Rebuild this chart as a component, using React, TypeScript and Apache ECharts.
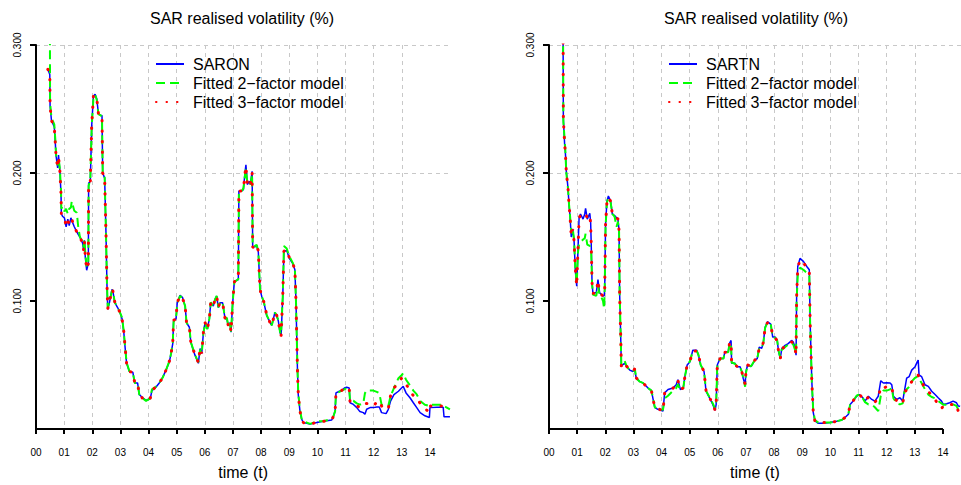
import React, { useEffect, useRef } from "react";
import * as echarts from "echarts";

// Axis ticks and labels
const X_TICKS = [0, 1, 2, 3, 4, 5, 6, 7, 8, 9, 10, 11, 12, 13, 14];
const Y_TICKS = [0.1, 0.2, 0.3];
const TITLE = "SAR realised volatility (%)";
const X_NAME = "time (t)";
const FIT2 = "Fitted 2\u2212factor model";
const FIT3 = "Fitted 3\u2212factor model";

// SARON panel
const SARON_T = [
  0.42, 0.49, 0.5, 0.55, 0.65, 0.69, 0.71, 0.77, 0.8, 0.85,
  0.89, 0.9, 0.95, 1.01, 1.07, 1.13, 1.18, 1.24, 1.27, 1.36,
  1.45, 1.5, 1.56, 1.66, 1.69, 1.72, 1.75, 1.8, 1.86, 1.87,
  1.93, 1.98, 2.04, 2.1, 2.16, 2.22, 2.3, 2.345, 2.37, 2.44,
  2.49, 2.52, 2.55, 2.61, 2.7, 2.73, 2.8, 2.9, 2.985, 3.06,
  3.12, 3.17, 3.22, 3.32, 3.44, 3.51, 3.61, 3.67, 3.79, 3.91,
  4.06, 4.12, 4.26, 4.38, 4.5, 4.62, 4.74, 4.8, 4.86, 4.89,
  4.975, 5.02, 5.12, 5.21, 5.3, 5.35, 5.45, 5.5, 5.59, 5.65,
  5.77, 5.83, 5.89, 5.95, 6.01, 6.09, 6.16, 6.21, 6.3, 6.36,
  6.42, 6.48, 6.54, 6.63, 6.72, 6.78, 6.83, 6.89, 6.93, 6.99,
  7.05, 7.19, 7.21, 7.31, 7.37, 7.43, 7.46, 7.51, 7.58, 7.62,
  7.68, 7.7, 7.78, 7.84, 7.9, 7.96, 8.02, 8.1, 8.2, 8.32,
  8.38, 8.49, 8.55, 8.61, 8.67, 8.71, 8.77, 8.81, 8.91, 9.0,
  9.12, 9.2, 9.24, 9.29, 9.32, 9.38, 9.44, 9.5, 9.74, 9.98,
  10.21, 10.51, 10.57, 10.63, 10.66, 10.78, 10.86, 10.96, 11.04, 11.13,
  11.16, 11.28, 11.4, 11.51, 11.63, 11.69, 11.75, 11.87, 11.99, 12.11,
  12.2, 12.28, 12.44, 12.52, 12.6, 12.72, 12.88, 12.99, 13.05, 13.15,
  13.29, 13.41, 13.53, 13.65, 13.82, 13.98, 14.0, 14.24, 14.47, 14.5,
  14.71,
];
const SARON = [
  0.281, 0.277, 0.2525, 0.241, 0.236, 0.222, 0.214, 0.204, 0.214, 0.201,
  0.183, 0.168, 0.166, 0.165, 0.158, 0.164, 0.159, 0.165, 0.163, 0.158,
  0.154, 0.152, 0.15, 0.145, 0.14, 0.1475, 0.1346, 0.124, 0.1295, 0.192,
  0.1935, 0.237, 0.26, 0.2615, 0.258, 0.246, 0.245, 0.245, 0.2, 0.196,
  0.15, 0.114, 0.0936, 0.0987, 0.109, 0.108, 0.0987, 0.0949, 0.091, 0.086,
  0.0756, 0.0628, 0.0513, 0.0449, 0.0444, 0.0359, 0.036, 0.0269, 0.0244, 0.0223,
  0.0238, 0.03, 0.0326, 0.0359, 0.0403, 0.046, 0.0526, 0.059, 0.0667, 0.0846,
  0.086, 0.0987, 0.1044, 0.1026, 0.096, 0.083, 0.0795, 0.068, 0.0615, 0.0577,
  0.0513, 0.0628, 0.059, 0.0756, 0.0833, 0.0782, 0.086, 0.0987, 0.096, 0.1013,
  0.1038, 0.0949, 0.0987, 0.0987, 0.086, 0.0865, 0.0808, 0.083, 0.0756, 0.0987,
  0.1154, 0.1167, 0.186, 0.186, 0.187, 0.201, 0.2064, 0.191, 0.1936, 0.191,
  0.2013, 0.1423, 0.1423, 0.1436, 0.1385, 0.109, 0.1038, 0.0987, 0.0885, 0.0833,
  0.081, 0.091, 0.0885, 0.0846, 0.0756, 0.073, 0.1038, 0.1385, 0.1397, 0.1333,
  0.1295, 0.1244, 0.0987, 0.0474, 0.0269, 0.014, 0.0077, 0.0051, 0.0038, 0.0051,
  0.006, 0.007, 0.01, 0.014, 0.0282, 0.0295, 0.03, 0.032, 0.0326, 0.032,
  0.0205, 0.0192, 0.0167, 0.0136, 0.0128, 0.0115, 0.0154, 0.0167, 0.0167, 0.0172,
  0.0172, 0.0128, 0.012, 0.0154, 0.0218, 0.0269, 0.0295, 0.032, 0.0333, 0.0282,
  0.0244, 0.0205, 0.0167, 0.0128, 0.0103, 0.009, 0.0167, 0.017, 0.017, 0.0095,
  0.0095,
];
const SARON_FIT2 = [
  0.36, 0.36, 0.255, 0.243, 0.238, 0.225, 0.215, 0.206, 0.212, 0.203,
  0.185, 0.172, 0.174, 0.17, 0.172, 0.168, 0.172, 0.173, 0.178, 0.1705,
  0.169, 0.158, 0.15, 0.146, 0.142, 0.148, 0.138, 0.127, 0.13, 0.19,
  0.195, 0.236, 0.258, 0.261, 0.257, 0.246, 0.245, 0.244, 0.201, 0.197,
  0.15, 0.115, 0.095, 0.099, 0.108, 0.108, 0.099, 0.095, 0.091, 0.087,
  0.076, 0.063, 0.052, 0.045, 0.044, 0.036, 0.036, 0.027, 0.024, 0.022,
  0.024, 0.031, 0.033, 0.036, 0.04, 0.046, 0.053, 0.059, 0.067, 0.084,
  0.086, 0.098, 0.104, 0.102, 0.096, 0.083, 0.08, 0.068, 0.062, 0.058,
  0.052, 0.062, 0.059, 0.075, 0.083, 0.078, 0.086, 0.099, 0.096, 0.101,
  0.104, 0.095, 0.099, 0.099, 0.086, 0.087, 0.081, 0.083, 0.076, 0.099,
  0.115, 0.117, 0.186, 0.186, 0.188, 0.199, 0.203, 0.192, 0.193, 0.191,
  0.199, 0.143, 0.143, 0.144, 0.139, 0.11, 0.104, 0.099, 0.089, 0.083,
  0.081, 0.091, 0.089, 0.085, 0.076, 0.074, 0.104, 0.143, 0.141, 0.135,
  0.13, 0.125, 0.099, 0.048, 0.028, 0.015, 0.008, 0.006, 0.004, 0.006,
  0.006, 0.008, 0.01, 0.014, 0.028, 0.029, 0.03, 0.031, 0.032, 0.032,
  0.022, 0.022, 0.02, 0.019, 0.02, 0.028, 0.03, 0.03, 0.03, 0.029,
  0.028, 0.019, 0.018, 0.018, 0.0256, 0.032, 0.0397, 0.042, 0.0436, 0.0385,
  0.034, 0.03, 0.027, 0.022, 0.019, 0.018, 0.019, 0.019, 0.019, 0.018,
  0.0154,
];
const SARON_FIT3 = [
  0.281, 0.277, 0.2525, 0.241, 0.236, 0.222, 0.214, 0.204, 0.213, 0.201,
  0.183, 0.168, 0.166, 0.165, 0.159, 0.163, 0.16, 0.164, 0.164, 0.158,
  0.154, 0.152, 0.15, 0.145, 0.14, 0.147, 0.135, 0.125, 0.129, 0.191,
  0.193, 0.237, 0.26, 0.261, 0.258, 0.246, 0.245, 0.245, 0.2, 0.196,
  0.15, 0.114, 0.094, 0.099, 0.109, 0.108, 0.099, 0.095, 0.091, 0.086,
  0.076, 0.063, 0.051, 0.045, 0.044, 0.036, 0.036, 0.027, 0.024, 0.022,
  0.024, 0.03, 0.033, 0.036, 0.04, 0.046, 0.053, 0.059, 0.067, 0.085,
  0.086, 0.099, 0.104, 0.102, 0.096, 0.083, 0.08, 0.068, 0.062, 0.058,
  0.052, 0.063, 0.059, 0.076, 0.083, 0.078, 0.086, 0.099, 0.096, 0.101,
  0.104, 0.095, 0.099, 0.099, 0.086, 0.087, 0.081, 0.083, 0.076, 0.099,
  0.115, 0.117, 0.186, 0.186, 0.187, 0.2, 0.205, 0.191, 0.193, 0.191,
  0.2, 0.142, 0.142, 0.144, 0.139, 0.109, 0.104, 0.099, 0.089, 0.083,
  0.081, 0.091, 0.089, 0.085, 0.076, 0.073, 0.104, 0.139, 0.14, 0.134,
  0.13, 0.124, 0.099, 0.047, 0.027, 0.014, 0.008, 0.005, 0.004, 0.005,
  0.006, 0.007, 0.01, 0.014, 0.028, 0.029, 0.03, 0.032, 0.032, 0.032,
  0.021, 0.019, 0.018, 0.017, 0.017, 0.019, 0.02, 0.02, 0.018, 0.021,
  0.022, 0.018, 0.015, 0.016, 0.026, 0.032, 0.036, 0.0397, 0.039, 0.035,
  0.03, 0.026, 0.0244, 0.02, 0.016, 0.013, 0.018, 0.018, 0.018, 0.017,
  0.0154,
];

// SARTN panel
const SARTN_T = [
  0.5, 0.51, 0.56, 0.58, 0.615, 0.675, 0.71, 0.75, 0.79, 0.84,
  0.89, 0.935, 0.985, 1.03, 1.07, 1.12, 1.21, 1.27, 1.3, 1.36,
  1.45, 1.48, 1.5, 1.53, 1.56, 1.68, 1.74, 1.8, 1.86, 1.92,
  1.96, 1.98, 2.01, 2.06, 2.11, 2.19, 2.25, 2.33, 2.4, 2.45,
  2.49, 2.51, 2.55, 2.57, 2.6, 2.69, 2.76, 2.87, 2.985, 3.05,
  3.1, 3.22, 3.34, 3.52, 3.64, 3.7, 3.76, 3.87, 4.05, 4.11,
  4.23, 4.41, 4.52, 4.58, 4.67, 4.77, 4.83, 4.91, 5.01, 5.11,
  5.25, 5.31, 5.39, 5.51, 5.58, 5.7, 5.82, 5.9, 5.94, 5.98,
  6.08, 6.2, 6.25, 6.37, 6.41, 6.47, 6.49, 6.61, 6.67, 6.79,
  6.85, 6.9, 6.97, 7.0, 7.06, 7.18, 7.32, 7.4, 7.47, 7.56,
  7.62, 7.68, 7.76, 7.88, 7.95, 8.04, 8.11, 8.16, 8.22, 8.27,
  8.39, 8.5, 8.62, 8.68, 8.74, 8.78, 8.8, 8.84, 8.92, 9.04,
  9.16, 9.25, 9.28, 9.34, 9.39, 9.45, 9.57, 9.75, 9.99, 10.22,
  10.4, 10.52, 10.64, 10.7, 10.81, 10.93, 11.03, 11.15, 11.23, 11.35,
  11.47, 11.58, 11.7, 11.79, 11.88, 12.0, 12.12, 12.18, 12.24, 12.36,
  12.47, 12.57, 12.63, 12.71, 12.8, 12.89, 13.01, 13.09, 13.12, 13.15,
  13.24, 13.36, 13.48, 13.6, 13.72, 13.83, 13.95, 14.01, 14.13, 14.24,
  14.36, 14.48, 14.54, 14.61,
];
const SARTN = [
  0.31, 0.2423, 0.2205, 0.2167, 0.2013, 0.1885, 0.1756, 0.1654, 0.15, 0.1564,
  0.1474, 0.1244, 0.1115, 0.14, 0.1654, 0.168, 0.164, 0.168, 0.1723, 0.164,
  0.1685, 0.1615, 0.1449, 0.114, 0.1064, 0.1064, 0.1167, 0.1064, 0.1052, 0.1038,
  0.104, 0.109, 0.16, 0.178, 0.182, 0.178, 0.168, 0.1667, 0.165, 0.164,
  0.155, 0.1064, 0.0705, 0.0487, 0.05, 0.0513, 0.049, 0.046, 0.0449, 0.046,
  0.0397, 0.0372, 0.0359, 0.032, 0.03, 0.0231, 0.0167, 0.0154, 0.014, 0.0282,
  0.0308, 0.032, 0.0346, 0.0385, 0.0308, 0.032, 0.041, 0.05, 0.0526, 0.0615,
  0.0615, 0.0577, 0.05, 0.0449, 0.0295, 0.0244, 0.0192, 0.0146, 0.0192, 0.05,
  0.0551, 0.0551, 0.0603, 0.0603, 0.0667, 0.0692, 0.0513, 0.0513, 0.0487, 0.0487,
  0.0449, 0.0397, 0.0346, 0.0449, 0.05, 0.0487, 0.0538, 0.055, 0.064, 0.063,
  0.068, 0.0795, 0.0838, 0.082, 0.0718, 0.0718, 0.069, 0.0603, 0.0551, 0.0628,
  0.0654, 0.0667, 0.0692, 0.068, 0.064, 0.0577, 0.1038, 0.127, 0.1333, 0.131,
  0.127, 0.1244, 0.0833, 0.0372, 0.013, 0.0064, 0.0044, 0.0044, 0.0051, 0.006,
  0.007, 0.009, 0.0115, 0.0192, 0.0218, 0.0256, 0.0269, 0.0244, 0.0218, 0.0256,
  0.0231, 0.0218, 0.0256, 0.0377, 0.0359, 0.0362, 0.036, 0.0346, 0.0256, 0.0231,
  0.0244, 0.0218, 0.0295, 0.0397, 0.041, 0.046, 0.0487, 0.0526, 0.0538, 0.0423,
  0.041, 0.0346, 0.0333, 0.0295, 0.0269, 0.0244, 0.0218, 0.0192, 0.0197, 0.0205,
  0.0218, 0.0205, 0.018, 0.0177,
];
const SARTN_FIT2 = [
  0.31, 0.24, 0.225, 0.218, 0.2, 0.188, 0.176, 0.166, 0.153, 0.157,
  0.148, 0.126, 0.113, 0.138, 0.145, 0.146, 0.148, 0.149, 0.1525, 0.144,
  0.143, 0.14, 0.138, 0.114, 0.105, 0.104, 0.112, 0.104, 0.103, 0.1,
  0.094, 0.11, 0.158, 0.177, 0.181, 0.177, 0.168, 0.166, 0.158, 0.162,
  0.154, 0.107, 0.071, 0.05, 0.051, 0.053, 0.049, 0.046, 0.045, 0.047,
  0.04, 0.037, 0.036, 0.032, 0.03, 0.024, 0.017, 0.016, 0.015, 0.024,
  0.026, 0.03, 0.032, 0.035, 0.03, 0.032, 0.041, 0.05, 0.053, 0.061,
  0.061, 0.058, 0.05, 0.045, 0.03, 0.025, 0.02, 0.016, 0.019, 0.049,
  0.055, 0.055, 0.06, 0.06, 0.066, 0.067, 0.052, 0.051, 0.049, 0.048,
  0.045, 0.04, 0.033, 0.044, 0.05, 0.049, 0.054, 0.055, 0.063, 0.063,
  0.068, 0.079, 0.083, 0.082, 0.072, 0.071, 0.069, 0.061, 0.056, 0.062,
  0.064, 0.066, 0.067, 0.066, 0.062, 0.058, 0.1, 0.12, 0.126, 0.1244,
  0.122, 0.1205, 0.083, 0.037, 0.014, 0.007, 0.005, 0.005, 0.005, 0.006,
  0.007, 0.009, 0.012, 0.019, 0.022, 0.026, 0.027, 0.024, 0.021, 0.0192,
  0.019, 0.017, 0.014, 0.026, 0.03, 0.03, 0.031, 0.032, 0.024, 0.02,
  0.0192, 0.02, 0.029, 0.031, 0.033, 0.0372, 0.04, 0.041, 0.04, 0.039,
  0.036, 0.031, 0.0269, 0.025, 0.024, 0.0218, 0.02, 0.019, 0.019, 0.0192,
  0.0192, 0.018, 0.0154, 0.014,
];
const SARTN_FIT3 = [
  0.31, 0.242, 0.221, 0.217, 0.201, 0.188, 0.176, 0.165, 0.151, 0.156,
  0.147, 0.125, 0.112, 0.14, 0.165, 0.167, 0.166, 0.167, 0.168, 0.165,
  0.167, 0.16, 0.145, 0.114, 0.106, 0.106, 0.116, 0.106, 0.105, 0.104,
  0.104, 0.108, 0.16, 0.178, 0.181, 0.178, 0.168, 0.167, 0.165, 0.164,
  0.155, 0.106, 0.071, 0.049, 0.05, 0.052, 0.049, 0.046, 0.045, 0.047,
  0.04, 0.037, 0.036, 0.032, 0.03, 0.023, 0.017, 0.016, 0.014, 0.028,
  0.03, 0.032, 0.034, 0.038, 0.031, 0.032, 0.041, 0.05, 0.053, 0.061,
  0.061, 0.058, 0.05, 0.045, 0.03, 0.025, 0.019, 0.015, 0.019, 0.05,
  0.055, 0.055, 0.06, 0.06, 0.066, 0.068, 0.051, 0.051, 0.049, 0.049,
  0.045, 0.04, 0.035, 0.045, 0.05, 0.049, 0.054, 0.055, 0.063, 0.063,
  0.068, 0.079, 0.083, 0.082, 0.072, 0.071, 0.069, 0.06, 0.055, 0.062,
  0.065, 0.066, 0.068, 0.067, 0.063, 0.058, 0.103, 0.126, 0.132, 0.13,
  0.126, 0.124, 0.083, 0.037, 0.013, 0.006, 0.005, 0.005, 0.005, 0.006,
  0.007, 0.009, 0.012, 0.019, 0.022, 0.026, 0.027, 0.024, 0.022, 0.025,
  0.022, 0.021, 0.024, 0.033, 0.032, 0.033, 0.0333, 0.033, 0.025, 0.022,
  0.02, 0.02, 0.028, 0.031, 0.034, 0.037, 0.041, 0.0423, 0.042, 0.04,
  0.037, 0.032, 0.0295, 0.026, 0.023, 0.0192, 0.016, 0.018, 0.0192, 0.0192,
  0.0192, 0.019, 0.014, 0.014,
];

const FONT = '"Liberation Sans", Arial, Helvetica, sans-serif';
const PX_PER_UNIT = 28.14;

type Kind = "obs" | "fit2" | "fit3";

const STYLES: Record<Kind, any> = {
  obs: { color: "#0000ff", width: 1.5, type: "solid" },
  fit2: { color: "#00ff00", width: 2, type: [9, 5] },
  fit3: { color: "#ff0000", width: 3, type: [0.5, 10], cap: "round" },
};

function makeSeries(name: string, ts: number[], vs: number[], idx: number, kind: Kind, extra: any = {}) {
  return {
    type: "line",
    name,
    xAxisIndex: idx,
    yAxisIndex: idx,
    data: ts.map((t, i) => [t, vs[i]]),
    symbol: "none",
    showSymbol: false,
    clip: true,
    silent: true,
    color: STYLES[kind].color,
    lineStyle: STYLES[kind],
    emphasis: { disabled: true },
    ...extra,
  };
}

// Bottom axis line drawn only between the first and last ticks
function baseLine() {
  return {
    silent: true,
    symbol: ["none", "none"],
    label: { show: false },
    emphasis: { disabled: true },
    lineStyle: { color: "#000", width: 2, type: "solid" },
    data: [[{ coord: [X_TICKS[0], 0] }, { coord: [X_TICKS[X_TICKS.length - 1], 0] }]],
  };
}

function xAxis(idx: number, max: number) {
  return {
    type: "value",
    gridIndex: idx,
    min: 0,
    max,
    interval: 1,
    axisLine: { show: false },
    axisTick: {
      show: true,
      customValues: X_TICKS,
      length: 5,
      lineStyle: { color: "#000", width: 2 },
    },
    axisLabel: {
      customValues: X_TICKS,
      formatter: (v: number) => String(Math.round(v)).padStart(2, "0"),
      fontSize: 10,
      color: "#000",
      fontFamily: FONT,
      margin: 18,
    },
    splitLine: {
      show: true,
      showMaxLine: false,
      lineStyle: { color: "#c8c8c8", type: [4, 4], width: 1 },
    },
    name: X_NAME,
    nameLocation: "middle",
    nameGap: 35,
    nameTextStyle: { fontSize: 16, color: "#000", fontFamily: FONT },
  };
}

function yAxis(idx: number) {
  return {
    type: "value",
    gridIndex: idx,
    min: 0,
    max: 0.3,
    interval: 0.1,
    offset: 2,
    axisLine: { show: true, lineStyle: { color: "#000", width: 2 } },
    axisTick: {
      show: true,
      customValues: Y_TICKS,
      length: 6,
      lineStyle: { color: "#000", width: 2 },
    },
    axisLabel: {
      customValues: Y_TICKS,
      rotate: 90,
      formatter: (v: number) => v.toFixed(3),
      fontSize: 10,
      color: "#000",
      fontFamily: FONT,
      margin: 12,
    },
    splitLine: {
      show: true,
      showMinLine: false,
      lineStyle: { color: "#c8c8c8", type: [4, 4], width: 1 },
    },
  };
}

function legend(left: number, first: string) {
  return {
    orient: "vertical",
    left,
    top: 51,
    data: [first, FIT2, FIT3],
    itemWidth: 28,
    itemHeight: 16,
    itemGap: 3,
    selectedMode: false,
    itemStyle: { opacity: 0 },
    textStyle: { fontSize: 16, color: "#000", fontFamily: FONT, padding: [0, 0, 0, 4] },
  };
}

export default function App() {
  const ref = useRef<HTMLDivElement>(null);

  useEffect(() => {
    if (!ref.current) return;
    const chart = echarts.init(ref.current, undefined, { renderer: "svg" });
    const leftW = 14.72 * PX_PER_UNIT;
    const rightW = 961 - 549;
    chart.setOption({
      animation: false,
      textStyle: { fontFamily: FONT },
      grid: [
        { left: 36, top: 45, width: leftW, height: 391, containLabel: false },
        { left: 549, top: 45, width: rightW, height: 391, containLabel: false },
      ],
      xAxis: [xAxis(0, 14.72), xAxis(1, rightW / PX_PER_UNIT)],
      yAxis: [yAxis(0), yAxis(1)],
      legend: [legend(150, "SARON"), legend(663, "SARTN")],
      graphic: [
        {
          type: "text",
          x: 242,
          y: 18,
          style: { text: TITLE, fontSize: 16, fontFamily: FONT, fill: "#000", align: "center", verticalAlign: "middle" },
        },
        {
          type: "text",
          x: 756,
          y: 18,
          style: { text: TITLE, fontSize: 16, fontFamily: FONT, fill: "#000", align: "center", verticalAlign: "middle" },
        },
      ],
      series: [
        makeSeries("SARON", SARON_T, SARON, 0, "obs", { markLine: baseLine() }),
        makeSeries(FIT2, SARON_T, SARON_FIT2, 0, "fit2"),
        makeSeries(FIT3, SARON_T, SARON_FIT3, 0, "fit3"),
        makeSeries("SARTN", SARTN_T, SARTN, 1, "obs", { markLine: baseLine() }),
        makeSeries(FIT2, SARTN_T, SARTN_FIT2, 1, "fit2"),
        makeSeries(FIT3, SARTN_T, SARTN_FIT3, 1, "fit3"),
      ],
    });
    return () => chart.dispose();
  }, []);

  return (
    <div
      ref={ref}
      style={{ position: "absolute", left: 0, top: 0, width: 961, height: 485, background: "#fff" }}
    />
  );
}
